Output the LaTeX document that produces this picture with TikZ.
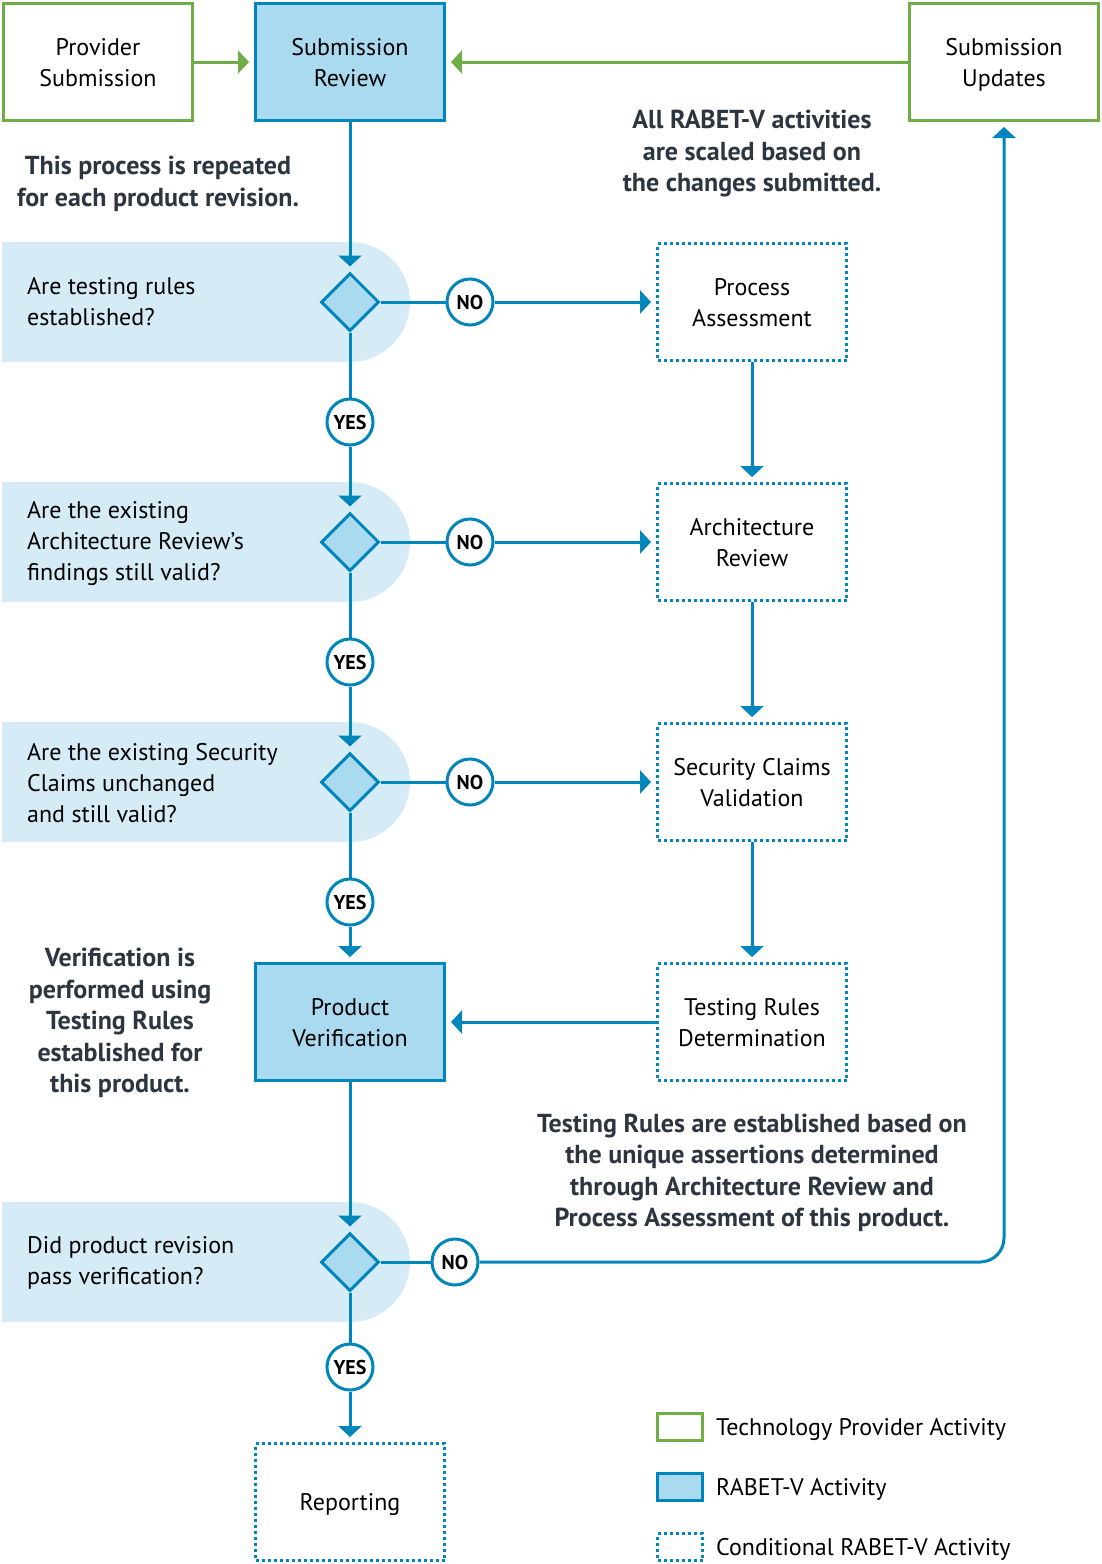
\documentclass[tikz,border=0pt]{standalone}
\usepackage{fontspec}
\setmainfont{PT Sans}
\usetikzlibrary{arrows.meta,shapes.geometric}

\definecolor{rabetblue}{RGB}{0,134,188}
\definecolor{rabetfill}{RGB}{170,218,240}
\definecolor{bandfill}{RGB}{213,235,246}
\definecolor{provgreen}{RGB}{112,173,71}
\definecolor{notegray}{RGB}{45,53,64}

\tikzset{
  boxtext/.style={font=\fontsize{24}{31}\selectfont, align=center, inner sep=0pt,
    minimum width=189pt, minimum height=117pt, line width=3pt, text depth=0pt},
  provbox/.style={boxtext, draw=provgreen, fill=white},
  rabetbox/.style={boxtext, draw=rabetblue, fill=rabetfill},
  condbox/.style={boxtext, draw=rabetblue, dash pattern=on 3pt off 3pt},
  decision/.style={diamond, draw=rabetblue, line width=3pt, fill=rabetfill,
    minimum width=58pt, minimum height=58pt, inner sep=0pt},
  answer/.style={circle, draw=rabetblue, line width=3pt, fill=white,
    minimum size=46pt, inner sep=0pt, font=\bfseries\fontsize{20}{22}\selectfont},
  question/.style={anchor=west, align=left, inner sep=0pt, font=\fontsize{24}{31}\selectfont},
  note/.style={align=center, inner sep=0pt, text=notegray, font=\bfseries\fontsize{26}{31.5}\selectfont},
  link/.style={draw=rabetblue, line width=3pt},
  flow/.style={link, -{Triangle[width=23pt,length=11pt]}, shorten >=5pt},
  provflow/.style={flow, draw=provgreen},
  legendbox/.style={line width=3pt, minimum width=45pt, minimum height=27pt, inner sep=0pt},
  legendtext/.style={anchor=west, inner sep=0pt, font=\fontsize{24}{31}\selectfont}
}

\begin{document}
\begin{tikzpicture}[x=1pt, y=-1pt]
  \useasboundingbox (0,0) rectangle (1102,1564);

  % Question bands
  \foreach \row in {302,542,782,1262} {
    \fill[bandfill] (2,\row-60) rectangle (350,\row+60);
    \fill[bandfill] (350,\row) circle (60);
  }

  % Top row
  \node[provbox]  (provsub) at (98,62)   {Provider\\Submission};
  \node[rabetbox] (subrev)  at (350,62)  {Submission\\Review};
  \node[provbox]  (subupd)  at (1004,62) {Submission\\Updates};

  % Decisions
  \node[decision] (dec1) at (350,302)  {};
  \node[decision] (dec2) at (350,542)  {};
  \node[decision] (dec3) at (350,782)  {};
  \node[decision] (dec4) at (350,1262) {};

  \node[question] at (27,302)  {Are testing rules\\established?};
  \node[question] at (27,544)  {Are the existing\\Architecture Review’s\\findings still valid?};
  \node[question] at (27,783)  {Are the existing Security\\Claims unchanged\\and still valid?};
  \node[question] at (27,1263) {Did product revision\\pass verification?};

  % Answers
  \node[answer] (no1)  at (470,302)  {NO};
  \node[answer] (no2)  at (470,542)  {NO};
  \node[answer] (no3)  at (470,782)  {NO};
  \node[answer] (no4)  at (455,1262) {NO};
  \node[answer] (yes1) at (350,422)  {YES};
  \node[answer] (yes2) at (350,662)  {YES};
  \node[answer] (yes3) at (350,902)  {YES};
  \node[answer] (yes4) at (350,1367) {YES};

  % Conditional activities
  \node[condbox] (procass) at (752,302)  {Process\\Assessment};
  \node[condbox] (archrev) at (752,542)  {Architecture\\Review};
  \node[condbox] (secval)  at (752,782)  {Security Claims\\Validation};
  \node[condbox] (testdet) at (752,1022) {Testing Rules\\Determination};
  \node[rabetbox] (prodver) at (350,1022) {Product\\Verification};
  \node[condbox] (report)  at (350,1502) {Reporting};

  % Notes
  \node[note] at (158,184)  {This process is repeated\\for each product revision.};
  \node[note] at (752,154)  {All RABET-V activities\\are scaled based on\\the changes submitted.};
  \node[note] at (120,1023) {Verification is\\performed using\\Testing Rules\\established for\\this product.};
  \node[note] at (752,1173) {Testing Rules are established based on\\the unique assertions determined\\through Architecture Review and\\Process Assessment of this product.};

  % Connectors
  \draw[provflow] (provsub) -- (subrev);
  \draw[provflow] (subupd) -- (subrev);
  \draw[flow] (subrev) -- (dec1);
  \draw[link] (dec1) -- (no1);  \draw[flow] (no1) -- (procass);
  \draw[link] (dec2) -- (no2);  \draw[flow] (no2) -- (archrev);
  \draw[link] (dec3) -- (no3);  \draw[flow] (no3) -- (secval);
  \draw[link] (dec1) -- (yes1); \draw[flow] (yes1) -- (dec2);
  \draw[link] (dec2) -- (yes2); \draw[flow] (yes2) -- (dec3);
  \draw[link] (dec3) -- (yes3); \draw[flow] (yes3) -- (prodver);
  \draw[flow] (procass) -- (archrev);
  \draw[flow] (archrev) -- (secval);
  \draw[flow] (secval) -- (testdet);
  \draw[flow] (testdet) -- (prodver);
  \draw[flow] (prodver) -- (dec4);
  \draw[link] (dec4) -- (no4);
  \draw[flow, rounded corners=24pt] (no4) -| (subupd);
  \draw[link] (dec4) -- (yes4); \draw[flow] (yes4) -- (report);

  % Legend
  \node[legendbox, draw=provgreen] (legprov) at (680,1427) {};
  \node[legendbox, draw=rabetblue, fill=rabetfill] (legrabet) at (680,1487) {};
  \node[legendbox, draw=rabetblue, dash pattern=on 3pt off 3pt] (legcond) at (680,1547) {};
  \node[legendtext] at (716,1429) {Technology Provider Activity};
  \node[legendtext] at (716,1489) {RABET-V Activity};
  \node[legendtext] at (716,1549) {Conditional RABET-V Activity};
\end{tikzpicture}
\end{document}
